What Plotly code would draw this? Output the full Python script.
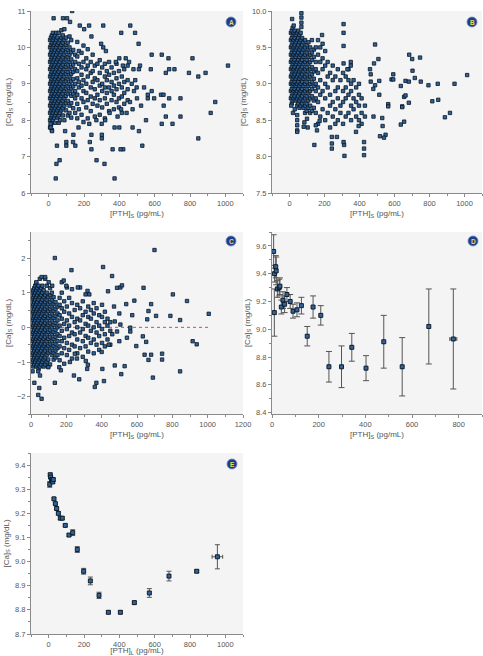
import plotly.graph_objects as go

W, H = 483, 656

# ---------------- Panel A : [Ca]S vs [PTH]S ----------------
a_core_x = [8, 13, 18, 24, 30, 36, 43, 50, 57, 64, 72, 80, 89, 98, 108, 118,
            128, 139, 150]
a_core_y = [
    [7.8, 8.0, 8.2, 8.4, 8.6, 8.8, 9.0, 9.2, 9.4, 9.6, 9.8, 10.0, 10.2],
    [7.87, 8.07, 8.27, 8.47, 8.67, 8.87, 9.07, 9.27, 9.47, 9.67, 9.87, 10.07, 10.27],
    [7.73, 7.93, 8.13, 8.33, 8.53, 8.73, 8.93, 9.13, 9.33, 9.53, 9.73, 9.93, 10.13, 10.33],
    [8.0, 8.2, 8.4, 8.6, 8.8, 9.0, 9.2, 9.4, 9.6, 9.8, 10.0, 10.2, 10.4],
    [8.07, 8.27, 8.47, 8.67, 8.87, 9.07, 9.27, 9.47, 9.67, 9.87, 10.07, 10.27],
    [7.93, 8.13, 8.33, 8.53, 8.73, 8.93, 9.13, 9.33, 9.53, 9.73, 9.93, 10.13, 10.33],
    [8.2, 8.4, 8.6, 8.8, 9.0, 9.2, 9.4, 9.6, 9.8, 10.0, 10.2, 10.4],
    [8.07, 8.27, 8.47, 8.67, 8.87, 9.07, 9.27, 9.47, 9.67, 9.87, 10.07, 10.27],
    [7.93, 8.13, 8.33, 8.53, 8.73, 8.93, 9.13, 9.33, 9.53, 9.73, 9.93, 10.13, 10.4],
    [8.0, 8.2, 8.4, 8.6, 8.8, 9.0, 9.2, 9.4, 9.6, 9.8, 10.0, 10.2],
    [8.27, 8.47, 8.67, 8.87, 9.07, 9.27, 9.47, 9.67, 9.87, 10.07, 10.27, 10.47],
    [8.13, 8.33, 8.53, 8.73, 8.93, 9.13, 9.33, 9.53, 9.73, 9.93, 10.13, 10.33],
    [8.0, 8.4, 8.6, 8.8, 9.0, 9.2, 9.4, 9.6, 9.8, 10.0, 10.2, 10.5],
    [8.27, 8.47, 8.67, 8.87, 9.07, 9.27, 9.47, 9.67, 9.87, 10.07, 10.27],
    [8.13, 8.53, 8.73, 8.93, 9.13, 9.33, 9.53, 9.73, 9.93, 10.13],
    [8.2, 8.4, 8.8, 9.0, 9.2, 9.4, 9.6, 9.8, 10.0, 10.3],
    [8.07, 8.47, 8.67, 8.87, 9.07, 9.27, 9.47, 9.67, 9.87, 10.2],
    [8.33, 8.73, 8.93, 9.13, 9.33, 9.53, 9.93],
    [8.2, 8.6, 8.8, 9.0, 9.4, 9.6, 9.8],
]
a_mid_x = [162, 171, 186, 197, 213, 221, 238, 249, 261, 276, 289, 303, 318,
           329, 342, 356, 369, 384, 398, 414, 428, 447]
a_mid_y = [
    [8.05, 8.45, 8.7, 9.15, 9.35, 9.75, 10.15],
    [8.3, 8.9, 9.05, 9.55, 9.9],
    [8.15, 8.6, 8.95, 9.25, 9.45, 9.85],
    [7.95, 8.5, 8.8, 9.1, 9.6, 10.05],
    [8.35, 8.75, 9.0, 9.4, 9.7],
    [8.05, 8.55, 9.2, 9.5, 9.95],
    [8.25, 8.65, 8.9, 9.3, 9.6],
    [8.45, 9.05, 9.35, 9.8],
    [8.1, 8.6, 8.85, 9.15, 9.5],
    [8.4, 8.7, 9.1, 9.55],
    [8.15, 8.55, 8.95, 9.3, 9.65],
    [8.35, 8.8, 9.0, 9.45],
    [8.05, 8.6, 8.9, 9.2, 9.55],
    [8.45, 8.75, 9.1, 9.35],
    [8.25, 8.9, 9.25, 9.6],
    [8.55, 8.8, 9.05, 9.45],
    [8.3, 8.7, 8.95, 9.3],
    [8.5, 8.85, 9.15, 9.55],
    [8.35, 8.6, 9.0, 9.35],
    [8.2, 8.65, 8.9, 9.2],
    [8.45, 8.75, 9.05, 9.4],
    [8.55, 8.85, 9.1, 9.5],
]
a_pts = [
    (28, 10.8), (81, 10.8), (104, 10.8), (133, 11.0), (121, 10.7), (176, 10.6),
    (201, 10.5), (229, 10.6), (242, 10.3), (309, 10.6), (411, 10.4), (462, 10.6),
    (489, 10.4), (509, 10.1), (297, 10.1), (309, 10.0), (324, 9.9), (436, 9.7),
    (583, 9.8), (640, 9.8), (678, 9.7), (814, 9.7), (1015, 9.5), (511, 9.4),
    (517, 9.5), (578, 9.4), (663, 9.3), (682, 9.4), (712, 9.4), (794, 9.3),
    (888, 9.3), (847, 9.2), (943, 8.5), (917, 8.2), (540, 8.9), (561, 8.7),
    (561, 8.6), (583, 8.8), (597, 8.6), (636, 8.7), (650, 8.7), (682, 8.6),
    (651, 8.4), (746, 8.6), (498, 8.9), (483, 8.8), (523, 8.4), (475, 8.3),
    (441, 8.2), (663, 8.1), (746, 8.1), (551, 8.0), (640, 7.9), (701, 7.9),
    (847, 7.5), (511, 7.7), (475, 7.8), (530, 7.3), (400, 7.8), (373, 7.8),
    (422, 7.2), (407, 7.2), (362, 7.2), (373, 6.4), (271, 6.9), (316, 6.8),
    (301, 7.6), (301, 7.5), (242, 7.6), (242, 7.2), (233, 7.4), (47, 7.3),
    (44, 6.8), (62, 6.9), (40, 6.4), (100, 7.4), (100, 7.3), (138, 7.4),
    (151, 7.3), (140, 7.6), (169, 7.8), (93, 7.7), (19, 7.7), (11, 7.9),
    (11, 7.8), (230, 7.9), (270, 8.0), (300, 7.9), (320, 8.0), (460, 8.5),
    (470, 9.0), (490, 9.1), (500, 8.6), (480, 9.4), (455, 9.6), (420, 9.5),
    (400, 9.7), (380, 9.6), (345, 8.2), (390, 8.1), (410, 8.3),
]

# ---------------- Panel B : adjusted [Ca]S vs [PTH]S ----------------
b_core_x = [8, 13, 18, 24, 30, 36, 43, 50, 57, 64, 72, 80, 89, 98, 108, 118,
            128, 139, 150]
b_core_y = [
    [8.8, 8.9, 9.0, 9.1, 9.2, 9.3, 9.4, 9.5, 9.6, 9.7],
    [8.73, 8.83, 8.93, 9.03, 9.13, 9.23, 9.33, 9.43, 9.53, 9.63, 9.73],
    [8.77, 8.87, 8.97, 9.07, 9.17, 9.27, 9.37, 9.47, 9.57, 9.67, 9.77],
    [8.8, 8.9, 9.0, 9.1, 9.2, 9.3, 9.4, 9.5, 9.6, 9.7, 9.8],
    [8.83, 8.93, 9.03, 9.13, 9.23, 9.33, 9.43, 9.53, 9.63, 9.73],
    [8.77, 8.87, 8.97, 9.07, 9.17, 9.27, 9.37, 9.47, 9.57, 9.67],
    [8.7, 8.8, 8.9, 9.0, 9.1, 9.2, 9.3, 9.4, 9.5, 9.6, 9.7],
    [8.73, 8.83, 8.93, 9.03, 9.13, 9.23, 9.33, 9.43, 9.53, 9.63, 9.73],
    [8.67, 8.77, 8.87, 8.97, 9.07, 9.17, 9.27, 9.37, 9.47, 9.57, 9.67],
    [8.7, 8.8, 8.9, 9.0, 9.1, 9.2, 9.3, 9.4, 9.5, 9.6, 9.7],
    [8.73, 8.83, 8.93, 9.03, 9.13, 9.23, 9.33, 9.43, 9.53, 9.63],
    [8.67, 8.77, 8.87, 8.97, 9.07, 9.17, 9.27, 9.37, 9.47, 9.57],
    [8.6, 8.7, 8.8, 8.9, 9.0, 9.1, 9.2, 9.3, 9.4, 9.5, 9.6],
    [8.63, 8.73, 8.83, 8.93, 9.03, 9.13, 9.23, 9.33, 9.43, 9.53],
    [8.67, 8.77, 8.87, 8.97, 9.07, 9.17, 9.27, 9.37, 9.47, 9.57],
    [8.6, 8.7, 8.8, 8.9, 9.0, 9.1, 9.2, 9.3, 9.4, 9.5],
    [8.63, 8.83, 8.93, 9.03, 9.13, 9.23, 9.33, 9.43, 9.6],
    [8.67, 8.77, 8.97, 9.07, 9.17, 9.37, 9.47],
    [8.6, 8.8, 8.9, 9.0, 9.2, 9.3, 9.5],
]
b_mid_x = [163, 176, 189, 204, 218, 232, 247, 262, 276, 291, 306, 321, 337,
           352, 366, 381, 397, 412, 431]
b_mid_y = [
    [8.45, 8.75, 8.95, 9.15, 9.4, 9.6],
    [8.55, 8.85, 9.05, 9.3, 9.5],
    [8.65, 8.9, 9.2, 9.35, 9.55],
    [8.5, 8.8, 9.0, 9.25, 9.45],
    [8.6, 8.95, 9.1, 9.3],
    [8.4, 8.7, 8.85, 9.15],
    [8.55, 8.75, 9.05, 9.25],
    [8.45, 8.65, 8.9, 9.1],
    [8.5, 8.8, 8.95, 9.2],
    [8.6, 8.7, 9.05],
    [8.45, 8.75, 8.9, 9.15],
    [8.55, 8.8, 8.95, 9.1],
    [8.6, 8.85, 9.05, 9.2],
    [8.5, 8.7, 8.9, 9.0],
    [8.65, 8.8, 9.05],
    [8.55, 8.75, 8.95],
    [8.5, 8.7, 8.85, 9.0],
    [8.45, 8.6, 8.8],
    [8.55, 8.7],
]
b_pts = [
    (15, 9.89), (68, 9.97), (68, 9.91), (68, 9.84), (68, 9.78), (309, 9.82),
    (309, 9.70), (309, 9.52), (489, 9.54), (186, 9.67), (508, 9.34), (483, 9.28),
    (460, 9.20), (350, 9.30), (350, 9.25), (331, 9.20), (309, 9.28), (684, 9.40),
    (701, 9.34), (746, 9.36), (703, 9.18), (716, 9.08), (750, 9.03), (794, 8.98),
    (847, 9.0), (943, 9.0), (1015, 9.12), (816, 8.76), (850, 8.78), (888, 8.54),
    (917, 8.60), (663, 9.04), (682, 9.03), (636, 8.97), (593, 9.13), (583, 9.06),
    (593, 9.06), (564, 8.72), (564, 8.69), (644, 8.69), (644, 8.68), (655, 8.82),
    (663, 8.84), (682, 8.74), (655, 8.48), (513, 8.85), (513, 9.04), (489, 8.98),
    (479, 8.93), (464, 9.03), (464, 9.13), (530, 8.53), (532, 8.42), (517, 8.28),
    (549, 8.30), (540, 8.26), (636, 8.44), (480, 8.55), (380, 8.34), (395, 8.42),
    (426, 8.20), (426, 8.11), (426, 8.02), (314, 8.01), (312, 8.16), (309, 8.20),
    (242, 8.27), (242, 8.18), (242, 8.11), (271, 8.27), (142, 8.16), (44, 8.43),
    (44, 8.36), (44, 8.34), (44, 8.57), (44, 8.50), (85, 8.47), (81, 8.41),
    (100, 8.52), (104, 8.40), (150, 8.43), (157, 8.36), (172, 8.49), (20, 8.6),
    (10, 8.7), (30, 8.65),
]

# ---------------- Panel C : residual [Ca]S vs [PTH]S ----------------
c_core_x = [8, 13, 18, 24, 30, 36, 43, 50, 57, 64, 72, 80, 89, 98, 108, 118,
            128, 139, 150]
c_core_y = [
    [-1.0, -0.8, -0.6, -0.4, -0.2, 0.0, 0.2, 0.4, 0.6, 0.8, 1.0],
    [-1.13, -0.93, -0.73, -0.53, -0.33, -0.13, 0.07, 0.27, 0.47, 0.67, 0.87, 1.07],
    [-1.07, -0.87, -0.67, -0.47, -0.27, -0.07, 0.13, 0.33, 0.53, 0.73, 0.93, 1.13],
    [-1.0, -0.8, -0.6, -0.4, -0.2, 0.0, 0.2, 0.4, 0.6, 0.8, 1.0, 1.2],
    [-1.13, -0.93, -0.73, -0.53, -0.33, -0.13, 0.07, 0.27, 0.47, 0.67, 0.87, 1.07, 1.27],
    [-1.07, -0.87, -0.67, -0.47, -0.27, -0.07, 0.13, 0.33, 0.53, 0.73, 0.93, 1.13],
    [-1.2, -1.0, -0.8, -0.6, -0.4, -0.2, 0.0, 0.2, 0.4, 0.6, 0.8, 1.0, 1.2],
    [-1.13, -0.93, -0.73, -0.53, -0.33, -0.13, 0.07, 0.27, 0.47, 0.67, 0.87, 1.07, 1.4],
    [-1.07, -0.87, -0.67, -0.47, -0.27, -0.07, 0.13, 0.33, 0.53, 0.73, 0.93, 1.13],
    [-1.0, -0.8, -0.6, -0.4, -0.2, 0.0, 0.2, 0.4, 0.6, 0.8, 1.0, 1.2],
    [-1.13, -0.93, -0.73, -0.53, -0.33, -0.13, 0.07, 0.27, 0.47, 0.67, 0.87, 1.07],
    [-1.07, -0.87, -0.67, -0.47, -0.27, -0.07, 0.13, 0.33, 0.53, 0.73, 0.93, 1.4],
    [-1.0, -0.8, -0.6, -0.4, -0.2, 0.0, 0.2, 0.4, 0.6, 0.8, 1.0, 1.2],
    [-1.13, -0.93, -0.73, -0.53, -0.33, -0.13, 0.07, 0.27, 0.47, 0.67, 0.87],
    [-1.07, -0.67, -0.47, -0.27, -0.07, 0.13, 0.33, 0.53, 0.73, 0.93, 1.13],
    [-0.8, -0.6, -0.4, -0.2, 0.0, 0.2, 0.4, 0.6, 0.8, 1.0],
    [-0.93, -0.73, -0.53, -0.33, -0.13, 0.07, 0.27, 0.47, 0.67, 0.87],
    [-0.87, -0.67, -0.47, -0.27, -0.07, 0.13, 0.33, 0.53, 0.73],
    [-0.8, -0.6, -0.4, -0.2, 0.0, 0.2, 0.4, 0.6],
]
c_mid_x = [162, 174, 188, 203, 216, 232, 247, 262, 278, 293, 309, 324, 339,
           355, 371, 386, 402, 418, 433, 449]
c_mid_y = [
    [-0.95, -0.55, -0.25, 0.05, 0.35, 0.65, 0.85],
    [-0.75, -0.4, -0.1, 0.25, 0.55, 1.0, 1.3],
    [-1.05, -0.6, -0.3, 0.1, 0.45, 0.75],
    [-0.8, -0.45, -0.05, 0.2, 0.6, 1.15],
    [-0.65, -0.25, 0.05, 0.4, 0.85],
    [-0.9, -0.5, -0.15, 0.3, 0.7, 1.1],
    [-0.55, -0.2, 0.15, 0.5],
    [-0.75, -0.35, 0.0, 0.25, 0.65],
    [-0.6, -0.15, 0.2, 0.55, 1.15],
    [-0.85, -0.4, -0.05, 0.35, 0.75],
    [-0.55, -0.25, 0.1, 0.45, 0.95],
    [-0.7, -0.3, 0.05, 0.3, 0.6],
    [-0.45, -0.1, 0.25, 0.5],
    [-0.75, -0.35, 0.0, 0.4, 0.7],
    [-0.5, -0.15, 0.15, 0.55],
    [-0.65, -0.25, 0.05, 0.35],
    [-0.45, -0.05, 0.3, 0.65],
    [-0.55, -0.2, 0.15, 0.45],
    [-0.35, 0.05, 0.25],
    [-0.5, -0.1, 0.15],
]
c_pts = [
    (699, 2.23), (135, 2.0), (229, 1.65), (408, 1.74), (459, 1.48), (436, 1.04),
    (487, 1.14), (506, 1.15), (515, 1.21), (637, 1.14), (803, 0.95), (883, 0.76),
    (1006, 0.39), (680, 0.67), (585, 0.77), (539, 0.67), (573, 0.35), (658, 0.23),
    (708, 0.33), (789, 0.33), (844, 0.21), (665, 0.47), (562, -0.01), (562, -0.12),
    (506, 0.08), (474, 0.17), (487, -0.12), (543, -0.30), (596, -0.54), (633, -0.26),
    (652, -0.42), (915, -0.40), (938, -0.49), (643, -0.79), (665, -0.94), (680, -0.79),
    (742, -0.76), (742, -0.93), (690, -1.45), (844, -1.27), (530, -1.12), (474, -1.10),
    (511, -1.35), (404, -1.20), (413, -1.55), (370, -1.60), (361, -1.72), (135, -1.60),
    (169, -1.24), (160, -1.15), (98, -1.15), (19, -1.60), (41, -1.27), (9, -1.27),
    (51, -1.39), (47, -1.75), (41, -1.95), (60, -2.06), (248, -0.76), (243, -1.39),
    (273, -1.50), (310, -0.97), (318, -1.20), (322, -1.08), (400, -0.71), (60, 1.45),
    (80, 1.45), (30, 1.3), (100, 1.3), (120, 1.2), (185, 1.35), (200, 1.2),
    (265, 1.15), (320, 1.05), (330, 0.95), (470, 0.6), (500, 0.4), (440, -0.5),
    (460, -0.2), (500, -0.4), (220, -1.0), (260, -0.9),
]

# ---------------- Panel D : binned means ----------------
d_pth = [7, 10, 11, 16, 18, 23, 31, 34, 40, 47, 54, 64, 78, 90, 107, 126, 151,
         176, 209, 244, 298, 342, 403, 479, 558, 672, 777]
d_ca = [9.56, 9.12, 9.40, 9.45, 9.42, 9.29, 9.30, 9.31, 9.16, 9.21, 9.18, 9.25,
        9.20, 9.13, 9.14, 9.17, 8.95, 9.16, 9.10, 8.73, 8.73, 8.87, 8.72, 8.91,
        8.73, 9.02, 8.93]
d_err = [0.12, 0.17, 0.06, 0.08, 0.10, 0.06, 0.06, 0.06, 0.05, 0.06, 0.06, 0.05,
         0.05, 0.05, 0.05, 0.06, 0.07, 0.08, 0.07, 0.11, 0.15, 0.10, 0.09, 0.19,
         0.21, 0.27, 0.36]
d_xerr = [0, 0, 0, 0, 0, 0, 0, 0, 0, 0, 0, 0, 0, 0, 0, 0, 0, 0, 0, 0, 0, 0, 0,
          0, 0, 0, 15]

# ---------------- Panel E : binned means, long-term PTH ----------------
e_pth = [6, 9, 11, 17, 20, 23, 26, 30, 38, 45, 55, 66, 77, 94, 115, 136, 162,
         198, 236, 285, 338, 406, 485, 570, 681, 838, 955]
e_ca = [9.32, 9.36, 9.35, 9.34, 9.335, 9.33, 9.34, 9.26, 9.24, 9.22, 9.20, 9.18,
        9.18, 9.15, 9.11, 9.12, 9.05, 8.96, 8.92, 8.86, 8.79, 8.79, 8.83, 8.87,
        8.94, 8.96, 9.02]
e_err = [0.012, 0.006, 0.006, 0.006, 0.006, 0.006, 0.006, 0.005, 0.005, 0.006,
         0.006, 0.006, 0.006, 0.005, 0.005, 0.012, 0.012, 0.012, 0.016, 0.013,
         0.006, 0.006, 0.006, 0.018, 0.02, 0.005, 0.05]
e_xerr = [0, 0, 0, 0, 0, 0, 0, 0, 0, 0, 0, 0, 0, 0, 0, 0, 0, 0, 0, 0, 0, 0, 0,
          0, 0, 8, 30]

FONT = "Liberation Sans"
MARK = dict(symbol="square", size=3.4, color="#31639a",
            line=dict(color="#08141f", width=0.8))
MARK_BIG = dict(symbol="square", size=4, color="#31639a",
                line=dict(color="#08141f", width=0.9))
BG = "#f4f4f4"


def expand(cols, ylists, pts):
    xs, ys = [], []
    for x, yl in zip(cols, ylists):
        for y in yl:
            xs.append(x)
            ys.append(y)
    for x, y in pts:
        xs.append(x)
        ys.append(y)
    return xs, ys


fig = go.Figure()

ax_x, ay_y = expand(a_core_x + a_mid_x, a_core_y + a_mid_y, a_pts)
bx, by = expand(b_core_x + b_mid_x, b_core_y + b_mid_y, b_pts)
cx, cy = expand(c_core_x + c_mid_x, c_core_y + c_mid_y, c_pts)

fig.add_trace(go.Scatter(x=ax_x, y=ay_y, mode="markers", marker=MARK,
                         xaxis="x", yaxis="y", showlegend=False))
fig.add_trace(go.Scatter(x=bx, y=by, mode="markers", marker=MARK,
                         xaxis="x2", yaxis="y2", showlegend=False))
fig.add_trace(go.Scatter(x=[0, 1010], y=[0, 0], mode="lines",
                         line=dict(color="#e0454f", width=1, dash="dot"),
                         xaxis="x3", yaxis="y3", showlegend=False))
fig.add_trace(go.Scatter(x=cx, y=cy, mode="markers", marker=MARK,
                         xaxis="x3", yaxis="y3", showlegend=False))
fig.add_trace(go.Scatter(
    x=d_pth, y=d_ca, mode="markers", marker=MARK_BIG,
    error_y=dict(type="data", array=d_err, color="#555555", thickness=1, width=3),
    error_x=dict(type="data", array=d_xerr, color="#555555", thickness=1, width=2),
    xaxis="x4", yaxis="y4", showlegend=False))
fig.add_trace(go.Scatter(
    x=e_pth, y=e_ca, mode="markers", marker=MARK_BIG,
    error_y=dict(type="data", array=e_err, color="#555555", thickness=1, width=2.5),
    error_x=dict(type="data", array=e_xerr, color="#555555", thickness=1, width=2),
    xaxis="x5", yaxis="y5", showlegend=False))


def px_x(p):
    return p / W


def px_y(p):
    return 1 - p / H


TICKF = dict(family=FONT, size=7.5, color="#555555")
TITF = dict(family=FONT, size=8, color="#555555")


def xaxis(dom, anchor, rng, dtick, minor, title):
    return dict(domain=dom, anchor=anchor, range=rng, dtick=dtick, tick0=0,
                showline=True, linecolor="#8a8a8a", linewidth=1,
                ticks="outside", ticklen=3, tickcolor="#8a8a8a",
                minor=dict(ticks="outside", ticklen=2, dtick=minor,
                           tickcolor="#8a8a8a"),
                showgrid=False, zeroline=False, tickfont=TICKF,
                title=dict(text=title, font=TITF, standoff=3),
                automargin=False, fixedrange=True)


def yaxis(dom, anchor, rng, dtick, minor, title, fmt=None):
    d = dict(domain=dom, anchor=anchor, range=rng, dtick=dtick, tick0=0,
             showline=True, linecolor="#8a8a8a", linewidth=1,
             ticks="outside", ticklen=3, tickcolor="#8a8a8a",
             minor=dict(ticks="outside", ticklen=2, dtick=minor,
                        tickcolor="#8a8a8a"),
             showgrid=False, zeroline=False, tickfont=TICKF,
             title=dict(text=title, font=TITF, standoff=4),
             automargin=False, fixedrange=True)
    if fmt:
        d["tickformat"] = fmt
    return d


PTH_S = "[PTH]<sub>S</sub> (pg/mL)"
PTH_L = "[PTH]<sub>L</sub> (pg/mL)"
CA_S = "[Ca]<sub>S</sub> (mg/dL)"

xA = [px_x(31), px_x(243)]
xB = [px_x(272), px_x(482)]
yTop = [px_y(193), px_y(11)]
yMid = [px_y(414), px_y(232)]
yBot = [px_y(634), px_y(453)]

fig.update_layout(
    width=W, height=H, margin=dict(l=0, r=0, t=0, b=0),
    paper_bgcolor="white", plot_bgcolor=BG,
    font=dict(family=FONT, size=8, color="#555555"),
    xaxis=xaxis(xA, "y", [-100, 1100], 200, 100, PTH_S),
    yaxis=yaxis(yTop, "x", [6, 11], 1, 0.5, CA_S),
    xaxis2=xaxis(xB, "y2", [-100, 1100], 200, 100, PTH_S),
    yaxis2=yaxis(yTop, "x2", [7.5, 10], 0.5, 0.25, CA_S, ".1f"),
    xaxis3=xaxis(xA, "y3", [0, 1200], 200, 100, PTH_S),
    yaxis3=yaxis(yMid, "x3", [-2.5, 2.75], 1, 0.5, CA_S),
    xaxis4=xaxis(xB, "y4", [0, 900], 200, 100, PTH_S),
    yaxis4=yaxis(yMid, "x4", [8.39, 9.7], 0.2, 0.1, CA_S, ".1f"),
    xaxis5=xaxis(xA, "y5", [-100, 1100], 200, 100, PTH_L),
    yaxis5=yaxis(yBot, "x5", [8.7, 9.45], 0.1, 0.05, CA_S, ".1f"),
)

# panel badges
badges = [("A", 231, 22), ("B", 472, 22), ("C", 231, 241), ("D", 473, 241),
          ("E", 232, 464)]
for letter, bx_, by_ in badges:
    fig.add_shape(type="circle", xref="paper", yref="paper",
                  xsizemode="pixel", ysizemode="pixel",
                  xanchor=px_x(bx_), yanchor=px_y(by_),
                  x0=-5, x1=5, y0=-5, y1=5,
                  fillcolor="#1b3f8f", line=dict(color="#6d86c0", width=0.8))
    fig.add_annotation(x=px_x(bx_), y=px_y(by_), xref="paper", yref="paper",
                       text="<b>%s</b>" % letter, showarrow=False,
                       font=dict(family=FONT, size=6.5, color="#f2d64b"),
                       xanchor="center", yanchor="middle")

fig.write_html("out.html")
